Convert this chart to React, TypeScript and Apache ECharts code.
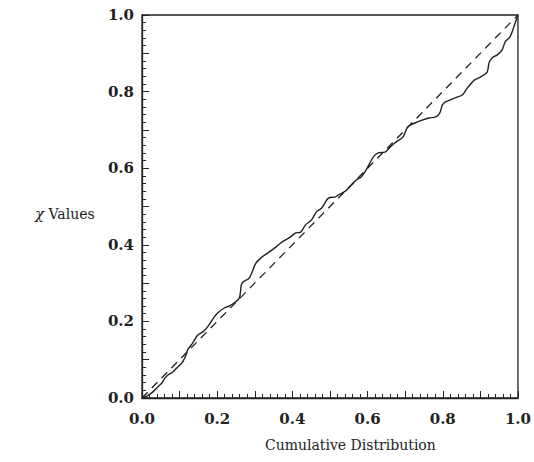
import React, { useEffect, useRef } from "react";
import * as echarts from "echarts";

// Empirical curve (solid line)
const cdfX = [0, 0.013, 0.029, 0.042, 0.053, 0.061, 0.069, 0.082, 0.095, 0.108, 0.119, 0.121, 0.135, 0.148, 0.161, 0.174, 0.187, 0.201, 0.219, 0.232, 0.245, 0.259, 0.266, 0.285, 0.303, 0.319, 0.338, 0.356, 0.372, 0.391, 0.409, 0.422, 0.435, 0.451, 0.464, 0.478, 0.496, 0.515, 0.522, 0.541, 0.557, 0.570, 0.583, 0.596, 0.615, 0.628, 0.646, 0.660, 0.675, 0.694, 0.707, 0.726, 0.747, 0.763, 0.781, 0.792, 0.799, 0.807, 0.831, 0.852, 0.865, 0.884, 0.900, 0.918, 0.923, 0.931, 0.945, 0.958, 0.966, 0.979, 0.989, 1.0];
const chiValues = [0, 0.005, 0.016, 0.029, 0.039, 0.052, 0.060, 0.068, 0.081, 0.094, 0.117, 0.125, 0.144, 0.164, 0.172, 0.185, 0.204, 0.222, 0.235, 0.240, 0.248, 0.261, 0.300, 0.313, 0.352, 0.368, 0.381, 0.394, 0.407, 0.418, 0.431, 0.433, 0.452, 0.465, 0.486, 0.496, 0.522, 0.525, 0.530, 0.540, 0.556, 0.569, 0.577, 0.595, 0.629, 0.640, 0.642, 0.655, 0.668, 0.681, 0.708, 0.718, 0.726, 0.731, 0.734, 0.744, 0.765, 0.773, 0.783, 0.791, 0.809, 0.830, 0.838, 0.851, 0.875, 0.888, 0.896, 0.909, 0.930, 0.943, 0.969, 1.0];

// Reference diagonal (dashed line)
const diagX = [0, 1];
const diagY = [0, 1];

const axisMin = 0;
const axisMax = 1;
const tickStep = 0.1;

const INK = "#222";
const SERIF = '"DejaVu Serif", serif';
const TITLE_FONT = '14px "DejaVu Serif", serif';

const labelFormatter = (v: number) =>
  Math.round(v * 10) % 2 === 0 ? v.toFixed(1) : "";

export default function App() {
  const ref = useRef<HTMLDivElement>(null);

  useEffect(() => {
    if (!ref.current) return;
    const chart = echarts.init(ref.current, undefined, { renderer: "svg" });

    const axisCommon = {
      type: "value" as const,
      min: axisMin,
      max: axisMax,
      interval: tickStep,
      axisLine: { show: true, lineStyle: { color: INK, width: 1.3 } },
      axisTick: { show: true, inside: true, length: 7, lineStyle: { color: INK, width: 1 } },
      minorTick: { show: true, splitNumber: 5, length: 4, lineStyle: { color: INK, width: 1 } },
      splitLine: { show: false },
      minorSplitLine: { show: false },
      axisLabel: {
        formatter: labelFormatter,
        color: INK,
        fontFamily: SERIF,
        fontWeight: "bold" as const,
        fontSize: 15,
      },
    };

    chart.setOption({
      animation: false,
      backgroundColor: "#fff",
      grid: {
        left: 142,
        right: 13,
        top: 15,
        bottom: 64,
        show: true,
        borderColor: INK,
        borderWidth: 1.3,
        backgroundColor: "transparent",
      },
      xAxis: {
        ...axisCommon,
        axisLabel: { ...axisCommon.axisLabel, margin: 13 },
      },
      yAxis: {
        ...axisCommon,
        axisLabel: { ...axisCommon.axisLabel, margin: 8 },
      },
      graphic: [
        {
          type: "text",
          left: 265,
          top: 438,
          style: {
            text: "Cumulative Distribution",
            font: TITLE_FONT,
            fill: INK,
          },
        },
        {
          type: "text",
          left: 35,
          top: 206,
          style: {
            text: "{i|χ} Values",
            font: TITLE_FONT,
            fill: INK,
            rich: {
              i: {
                fontStyle: "italic",
                fontFamily: SERIF,
                fontSize: 15,
                fill: INK,
              },
            },
          },
        },
      ],
      series: [
        {
          type: "line",
          data: cdfX.map((x, i) => [x, chiValues[i]]),
          showSymbol: false,
          smooth: 0.3,
          lineStyle: { color: INK, width: 1.4 },
        },
        {
          type: "line",
          data: diagX.map((x, i) => [x, diagY[i]]),
          showSymbol: false,
          lineStyle: { color: INK, width: 1.3, type: [8, 6] },
        },
      ],
    });

    return () => chart.dispose();
  }, []);

  return (
    <div
      ref={ref}
      style={{ position: "absolute", left: 0, top: 0, width: 534, height: 462 }}
    />
  );
}
